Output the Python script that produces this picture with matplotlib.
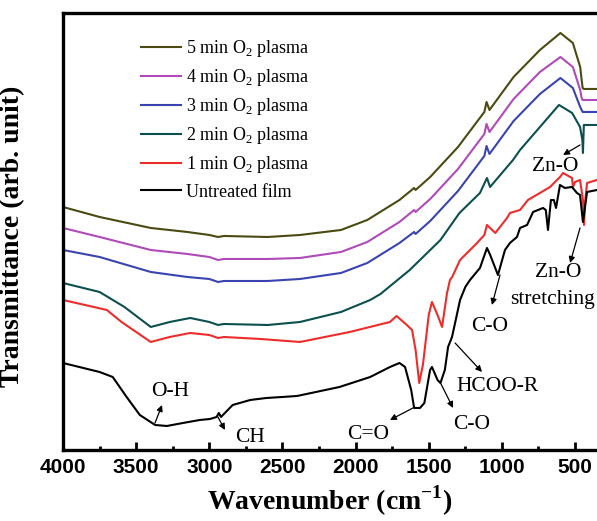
import matplotlib.pyplot as plt
from matplotlib.ticker import MultipleLocator

plt.rcParams['font.family'] = 'Liberation Serif'
plt.rcParams['mathtext.fontset'] = 'custom'
plt.rcParams['mathtext.rm'] = 'Liberation Serif'

# wavenumber grid shared by the 3 upper curves
wn_top = [4000, 3750, 3400, 3150, 3000, 2940, 2900, 2600, 2380, 2100, 1920, 1700, 1600, 1590,
          1490, 1300, 1120, 1105, 1085, 1050, 920, 740, 600, 515, 465, 455, 448, 440, 350]
t_5min = [243, 233, 222, 218, 215, 213, 214, 213, 215, 220, 230, 250, 262, 260,
          273, 303, 338, 348, 340, 347, 373, 400, 417, 407, 383, 370, 362, 361, 361]
t_4min = [222, 213, 200, 196, 193, 190, 191, 191, 192, 198, 208, 228, 240, 238,
          251, 281, 316, 326, 318, 325, 351, 378, 393, 383, 360, 352, 350, 350, 350]
t_3min = [200, 193, 178, 173, 171, 168, 169, 169, 171, 177, 187, 207, 218, 216,
          229, 259, 294, 304, 296, 303, 329, 356, 372, 362, 343, 340, 338, 338, 338]

wn_2min = [4000, 3750, 3580, 3400, 3270, 3130, 3000, 2940, 2900, 2600, 2380, 2100, 1900, 1830,
           1630, 1420, 1290, 1150, 1102, 1081, 924, 876, 740, 610, 520, 466, 450, 446, 440, 350]
t_2min = [167, 158, 143, 123, 128, 132, 128, 125, 126, 125, 128, 138, 150, 156,
          180, 210, 237, 257, 272, 263, 290, 300, 323, 345, 337, 323, 310, 297, 325, 325]

wn_1min = [4000, 3700, 3600, 3400, 3270, 3130, 3000, 2940, 2900, 2650, 2380, 2040, 1765, 1720,
           1650, 1614, 1590, 1565, 1540, 1500, 1478, 1440, 1409, 1375, 1355, 1340, 1286, 1170,
           1120, 1102, 1045, 965, 945, 876, 822, 740, 671, 603, 582, 521, 514, 500, 466, 446,
           439, 430, 418, 350]
t_1min = [150, 140, 128, 108, 113, 117, 115, 112, 113, 111, 108, 118, 128, 134,
          125, 120, 100, 67, 85, 135, 148, 135, 123, 157, 170, 173, 190, 207,
          215, 225, 217, 232, 237, 240, 250, 257, 263, 273, 277, 272, 263, 268, 270, 250,
          225, 250, 267, 270]

wn_untr = [4000, 3750, 3660, 3565, 3475, 3370, 3290, 3180, 3065, 2995, 2950, 2935, 2920, 2840,
           2720, 2610, 2500, 2400, 2110, 1900, 1765, 1700, 1662, 1620, 1600, 1560, 1530, 1491,
           1478, 1440, 1420, 1390, 1368, 1341, 1320, 1286, 1250, 1218, 1150, 1102, 1080, 1027,
           979, 945, 897, 876, 828, 787, 719, 700, 685, 665, 645, 630, 603, 570, 521, 487, 466,
           446, 418, 350]
t_untr = [87, 78, 73, 53, 35, 25, 24, 27, 30, 31, 33, 37, 33, 45,
          50, 52, 53, 54, 63, 73, 83, 87, 83, 60, 42, 42, 47, 80,
          83, 70, 67, 80, 103, 113, 127, 150, 163, 170, 182, 202, 195, 175,
          200, 207, 213, 222, 225, 238, 242, 240, 220, 250, 250, 242, 265, 262, 263, 257, 255,
          228, 258, 260]

labels = ['5 min O$_\\mathregular{2}$ plasma', '4 min O$_\\mathregular{2}$ plasma',
          '3 min O$_\\mathregular{2}$ plasma', '2 min O$_\\mathregular{2}$ plasma',
          '1 min O$_\\mathregular{2}$ plasma', 'Untreated film']
colors = ['#4a4a12', '#b04ab8', '#3a44b0', '#0c4f4f', '#ee2c2c', '#000000']

fig = plt.figure(figsize=(5.97, 5.21), dpi=100)
ax = fig.add_axes([0.1055, 0.1363, 0.8945, 0.8388])

series = [(wn_top, t_5min), (wn_top, t_4min), (wn_top, t_3min),
          (wn_2min, t_2min), (wn_1min, t_1min), (wn_untr, t_untr)]
for (x, y), lab, c in zip(series, labels, colors):
    ax.plot(x, y, color=c, lw=1.5, label=lab)

ax.set_xlim(4000, 350)
ax.set_ylim(0, 437)
ax.set_yticks([])
ax.xaxis.set_major_locator(MultipleLocator(500))
ax.xaxis.set_minor_locator(MultipleLocator(250))
ax.tick_params(axis='x', which='major', direction='in', length=6, width=2, pad=6)
ax.tick_params(axis='x', which='minor', direction='in', length=3, width=2)
for lab in ax.get_xticklabels():
    lab.set_fontfamily('Liberation Sans')
    lab.set_fontweight('bold')
    lab.set_fontsize(15)

for s in ['left', 'top', 'bottom']:
    ax.spines[s].set_linewidth(2.4)
ax.spines['right'].set_visible(False)

ax.set_xlabel('Wavenumber (cm$^{\\mathregular{-1}}$)', fontsize=20, fontweight='bold')
ax.set_ylabel('Transmittance (arb. unit)', fontsize=20, fontweight='bold')
ax.yaxis.set_label_coords(-0.071, 0.49)
ax.xaxis.set_label_coords(0.5, -0.078)

ax.legend(loc='upper left', bbox_to_anchor=(0.146, 0.943), frameon=False, fontsize=13,
          handlelength=2.2, handletextpad=0.3, labelspacing=0.45, borderpad=0, borderaxespad=0)

# peak assignments: (text, text pos, arrow tail, arrow head)
notes = [
    ('Zn-O', (637, 283), (466, 305), (582, 295)),
    ('C-O', (1081, 123), (1013, 175), (1068, 145)),
    ('HCOO-R', (1027, 63), (1320, 107), (1136, 78)),
    ('C-O', (1204, 25), (1423, 68), (1334, 42)),
    ('C=O', (1915, 15), (1608, 42), (1765, 30)),
    ('O-H', (3269, 58), (3371, 27), (3323, 45)),
    ('CH', (2722, 12), (2941, 33), (2893, 20)),
    ('Zn-O', (617, 177), (466, 222), (534, 187)),
]
for txt, pos, tail, head in notes:
    ax.text(pos[0], pos[1], txt, fontsize=15.5, ha='center', va='center')
    ax.annotate('', xy=head, xytext=tail,
                arrowprops=dict(arrowstyle='-|>', color='k', lw=0.9, mutation_scale=9,
                                shrinkA=0, shrinkB=0))
ax.text(653, 150, 'stretching', fontsize=15.5, ha='center', va='center')

fig.savefig('out.png', dpi=100)
